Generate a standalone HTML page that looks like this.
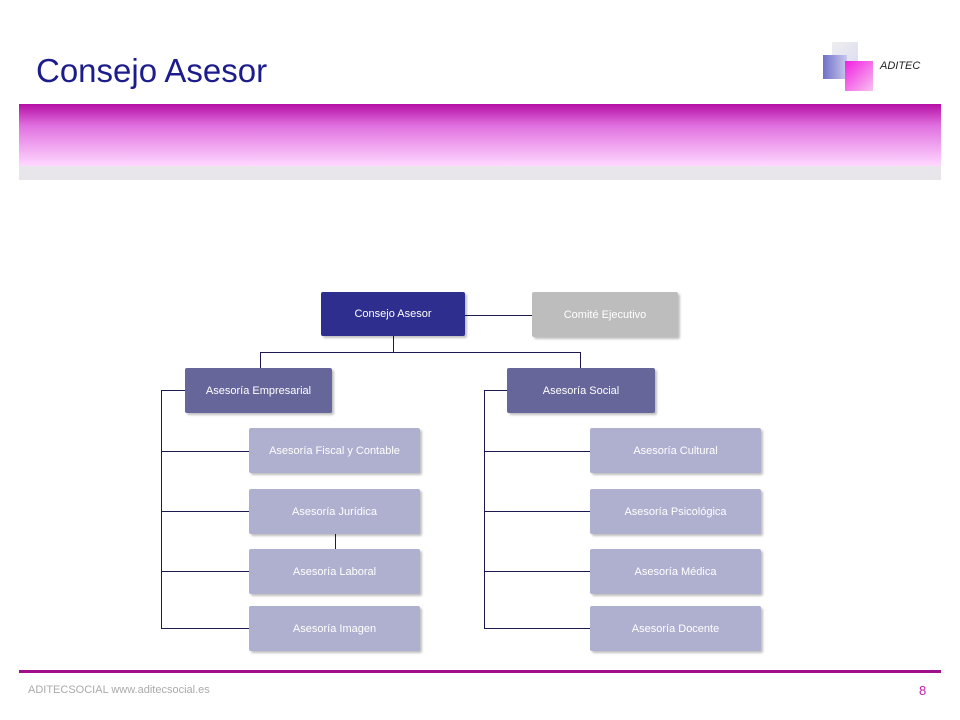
<!DOCTYPE html>
<html><head><meta charset="utf-8"><style>
body{margin:0;width:960px;height:720px;background:#fff;position:relative;overflow:hidden;font-family:"Liberation Sans",sans-serif}
.a{position:absolute}
.b{position:absolute;color:#fff;font-size:11px;display:flex;align-items:center;justify-content:center;box-shadow:2px 2px 2px rgba(0,0,0,.25);border-radius:2px}
.d{background:#2e2e8e}.m{background:#66669a}.l{background:#afafd0}.g{background:#bdbdbd}
.ln{position:absolute;background:#1a1a50}
</style></head><body>
<div class="a" style="left:36px;top:52px;font-size:33px;color:#1c1c8c">Consejo Asesor</div>
<div class="a" style="left:832px;top:42px;width:26px;height:26px;background:linear-gradient(135deg,#eee,#dcdcf4)"></div>
<div class="a" style="left:823px;top:55px;width:24px;height:24px;background:linear-gradient(90deg,#7070c8,#c8c8ee)"></div>
<div class="a" style="left:845px;top:61px;width:28px;height:30px;background:linear-gradient(135deg,#f020e0,#f8c0f0)"></div>
<div class="a" style="left:880px;top:60px;font-size:11px;font-style:italic;color:#222">ADITEC</div>
<div class="a" style="left:19px;top:104px;width:922px;height:62px;background:linear-gradient(#b510a5 0%,#e070e0 35%,#ffd8ff 100%)"></div>
<div class="a" style="left:19px;top:166px;width:922px;height:14px;background:#e8e6ea"></div>

<div class="ln" style="left:465px;top:315px;width:67px;height:1px"></div>
<div class="ln" style="left:393px;top:336px;width:1px;height:16px"></div>
<div class="ln" style="left:260px;top:352px;width:321px;height:1px"></div>
<div class="ln" style="left:260px;top:352px;width:1px;height:16px"></div>
<div class="ln" style="left:580px;top:352px;width:1px;height:16px"></div>
<div class="ln" style="left:161px;top:390px;width:1px;height:238px"></div>
<div class="ln" style="left:161px;top:390px;width:24px;height:1px"></div>
<div class="ln" style="left:484px;top:390px;width:1px;height:238px"></div>
<div class="ln" style="left:484px;top:390px;width:23px;height:1px"></div>
<div class="ln" style="left:161px;top:451px;width:88px;height:1px"></div>
<div class="ln" style="left:161px;top:511px;width:88px;height:1px"></div>
<div class="ln" style="left:161px;top:571px;width:88px;height:1px"></div>
<div class="ln" style="left:161px;top:628px;width:88px;height:1px"></div>
<div class="ln" style="left:484px;top:451px;width:106px;height:1px"></div>
<div class="ln" style="left:484px;top:511px;width:106px;height:1px"></div>
<div class="ln" style="left:484px;top:571px;width:106px;height:1px"></div>
<div class="ln" style="left:484px;top:628px;width:106px;height:1px"></div>
<div class="ln" style="left:335px;top:534px;width:1px;height:15px"></div>

<div class="b d" style="left:321px;top:292px;width:144px;height:44px">Consejo Asesor</div>
<div class="b g" style="left:532px;top:292px;width:146px;height:45px">Comité Ejecutivo</div>
<div class="b m" style="left:185px;top:368px;width:147px;height:45px">Asesoría Empresarial</div>
<div class="b m" style="left:507px;top:368px;width:148px;height:45px">Asesoría Social</div>
<div class="b l" style="left:249px;top:428px;width:171px;height:45px">Asesoría Fiscal y Contable</div>
<div class="b l" style="left:249px;top:489px;width:171px;height:45px">Asesoría Jurídica</div>
<div class="b l" style="left:249px;top:549px;width:171px;height:45px">Asesoría Laboral</div>
<div class="b l" style="left:249px;top:606px;width:171px;height:45px">Asesoría Imagen</div>
<div class="b l" style="left:590px;top:428px;width:171px;height:45px">Asesoría Cultural</div>
<div class="b l" style="left:590px;top:489px;width:171px;height:45px">Asesoría Psicológica</div>
<div class="b l" style="left:590px;top:549px;width:171px;height:45px">Asesoría Médica</div>
<div class="b l" style="left:590px;top:606px;width:171px;height:45px">Asesoría Docente</div>

<div class="a" style="left:19px;top:670px;width:922px;height:3px;background:#a0108a"></div>
<div class="a" style="left:28px;top:684px;font-size:11px;color:#aaa">ADITECSOCIAL www.aditecsocial.es</div>
<div class="a" style="left:919px;top:683px;font-size:13px;color:#c020b0">8</div>
</body></html>
